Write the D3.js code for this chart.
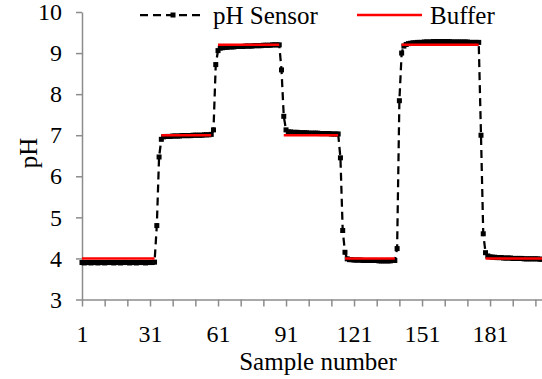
<!DOCTYPE html>
<html>
<head>
<meta charset="utf-8">
<script src="https://cdn.jsdelivr.net/npm/d3@7/dist/d3.min.js"></script>
<style>
  body { margin: 0; background: #fff; }
  svg text { font-family: "Liberation Serif", "Times New Roman", Times, "DejaVu Serif", serif; fill: #000; }
</style>
</head>
<body>
<div id="container"></div>
<script>
// pH sensor reading for each sample (sample number = index + 1)
var sensor = [
    3.90, 3.89, 3.90, 3.90, 3.89, 3.90, 3.90, 3.89, 3.90, 3.90, 3.89, 3.90, 3.90, 3.90, 3.89, 3.90,
    3.90, 3.89, 3.90, 3.90, 3.90, 3.89, 3.90, 3.90, 3.89, 3.90, 3.90, 3.90, 3.89, 3.90, 3.90, 3.90, 3.91,
    4.80, 6.47, 6.90,
    6.96, 6.97, 6.97, 6.97, 6.98, 6.98, 6.98, 6.98, 6.99, 6.99, 6.99, 6.99, 6.99, 7.00, 7.00, 7.00,
    7.00, 7.00, 7.01, 7.01, 7.01, 7.02,
    7.13, 8.72, 9.06,
    9.12, 9.13, 9.14, 9.14, 9.15, 9.15, 9.15, 9.16, 9.16, 9.16, 9.16, 9.17, 9.17, 9.17, 9.17, 9.18,
    9.18, 9.18, 9.18, 9.19, 9.19, 9.19, 9.19, 9.20, 9.20, 9.20, 9.20,
    8.59, 7.46, 7.13,
    7.08, 7.08, 7.07, 7.07, 7.07, 7.06, 7.06, 7.06, 7.06, 7.05, 7.05, 7.05, 7.05, 7.05, 7.04, 7.04,
    7.04, 7.04, 7.04, 7.03, 7.03, 7.03, 7.03,
    6.45, 4.68, 4.15, 3.99,
    3.97, 3.97, 3.96, 3.96, 3.96, 3.96, 3.95, 3.95, 3.95, 3.95, 3.95, 3.95, 3.95, 3.94, 3.94, 3.94,
    3.94, 3.94, 3.94, 3.95, 3.95,
    4.24, 7.84, 9.00, 9.17,
    9.21, 9.23, 9.24, 9.25, 9.25, 9.26, 9.26, 9.26, 9.27, 9.27, 9.27, 9.27, 9.28, 9.28, 9.28, 9.28,
    9.28, 9.28, 9.28, 9.28, 9.27, 9.27, 9.27, 9.27, 9.27, 9.27, 9.27, 9.27, 9.26, 9.26, 9.26, 9.26, 9.26,
    7.00, 4.60, 4.14, 4.06,
    4.04, 4.03, 4.03, 4.02, 4.02, 4.02, 4.01, 4.01, 4.01, 4.01, 4.00, 4.00, 4.00, 4.00, 4.00, 3.99,
    3.99, 3.99, 3.99, 3.99, 3.99, 3.99, 3.98, 3.98
];

// buffer pH, one entry per buffer step
var bufferLevels = [4.0, 7.0, 9.2, 7.0, 4.0, 9.2, 4.0];
var bufferStart  = [1, 36, 61, 90, 117, 142, 179];
var bufferEnd    = [33, 58, 88, 114, 139, 176, 204];

var xTicks = d3.range(1, 202, 10);
var xLabels = [1, 31, 61, 91, 121, 151, 181];
var yTicks = [3, 4, 5, 6, 7, 8, 9, 10];

var width = 542,
    height = 379;
var fontFamily = '"Liberation Serif", "Times New Roman", Times, "DejaVu Serif", serif';

var svg = d3.select('div#container')
    .append('svg')
    .attr('width', width)
    .attr('height', height)
    .attr('font-family', fontFamily);

var x = d3.scaleLinear().domain([1, 204]).range([82, 542.2]);
var y = d3.scaleLinear().domain([3, 10]).range([299.5, 12]);

var axisColor = '#8c8c8c';

// axes
var xAxis = svg.append('g')
    .attr('transform', 'translate(0,' + y(3) + ')')
    .call(d3.axisBottom(x)
        .tickValues(xTicks)
        .tickSizeInner(7)
        .tickSizeOuter(0)
        .tickPadding(18)
        .tickFormat(function(d) { return xLabels.indexOf(d) >= 0 ? d : ''; }));

var yAxis = svg.append('g')
    .attr('transform', 'translate(' + x(1) + ',0)')
    .call(d3.axisLeft(y)
        .tickValues(yTicks)
        .tickSizeInner(6)
        .tickSizeOuter(0)
        .tickPadding(14)
        .tickFormat(d3.format('d')));

[xAxis, yAxis].forEach(function(a) {
    a.attr('font-family', fontFamily).attr('font-size', 24);
    a.select('.domain').attr('stroke', axisColor).attr('stroke-width', 1.5);
    a.selectAll('.tick line').attr('stroke', axisColor).attr('stroke-width', 1.5);
    a.selectAll('.tick text').attr('fill', '#000');
});

// axis titles
svg.append('text')
    .attr('x', 318)
    .attr('y', 370)
    .attr('text-anchor', 'middle')
    .attr('font-size', 25)
    .text('Sample number');

svg.append('text')
    .attr('transform', 'translate(37,153) rotate(-90)')
    .attr('text-anchor', 'middle')
    .attr('font-size', 25)
    .text('pH');

// pH sensor series: dashed line + square markers
var line = d3.line()
    .x(function(d, i) { return x(i + 1); })
    .y(function(d) { return y(d); });

svg.append('path')
    .datum(sensor)
    .attr('d', line)
    .attr('fill', 'none')
    .attr('stroke', '#000')
    .attr('stroke-width', 2.25)
    .attr('stroke-dasharray', '8,5');

svg.append('g').selectAll('rect')
    .data(sensor)
    .join('rect')
    .attr('x', function(d, i) { return x(i + 1) - 2.5; })
    .attr('y', function(d) { return y(d) - 2.5; })
    .attr('width', 5)
    .attr('height', 5)
    .attr('fill', '#000');

// buffer series: red steps
svg.append('g').selectAll('line')
    .data(bufferLevels)
    .join('line')
    .attr('x1', function(d, i) { return x(bufferStart[i]); })
    .attr('x2', function(d, i) { return x(bufferEnd[i]); })
    .attr('y1', function(d) { return y(d); })
    .attr('y2', function(d) { return y(d); })
    .attr('stroke', '#ff0000')
    .attr('stroke-width', 2.5);

// legend
var legend = svg.append('g');
legend.append('line')
    .attr('x1', 140).attr('x2', 204)
    .attr('y1', 15).attr('y2', 15)
    .attr('stroke', '#000')
    .attr('stroke-width', 2.25)
    .attr('stroke-dasharray', '8,5');
legend.append('rect')
    .attr('x', 170.5).attr('y', 12.5)
    .attr('width', 5).attr('height', 5)
    .attr('fill', '#000');
legend.append('text')
    .attr('x', 213).attr('y', 24)
    .attr('font-size', 25)
    .text('pH Sensor');

legend.append('line')
    .attr('x1', 357).attr('x2', 422)
    .attr('y1', 15).attr('y2', 15)
    .attr('stroke', '#ff0000')
    .attr('stroke-width', 2.5);
legend.append('text')
    .attr('x', 430).attr('y', 24)
    .attr('font-size', 25)
    .text('Buffer');
</script>
</body>
</html>
